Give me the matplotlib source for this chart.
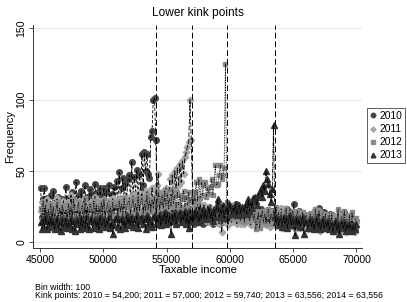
import matplotlib
matplotlib.use('Agg')
import matplotlib.pyplot as plt
import numpy as np

plt.rcParams['font.family'] = ['Liberation Sans', 'DejaVu Sans']

# bins of 100 from 45000 to 70000, plotted at bin midpoints
bin_start = 45000
bin_width = 100
kinks = [54200, 57000, 59740, 63556]
years = ['2010', '2011', '2012', '2013']

freq_2010 = [
    38, 18, 30, 38, 21, 31, 17, 27, 33, 20,
    36, 17, 28, 21, 32, 16, 26, 30, 19, 29,
    39, 19, 31, 22, 28, 35, 18, 30, 42, 21,
    33, 20, 36, 23, 30, 40, 21, 32, 24, 37,
    34, 22, 31, 41, 23, 35, 25, 38, 21, 33,
    38, 24, 36, 26, 40, 23, 34, 27, 39, 25,
    43, 26, 49, 28, 38, 45, 27, 41, 30, 44,
    47, 29, 56, 33, 46, 34, 51, 31, 48, 36,
    62, 40, 63, 50, 62, 48, 45, 74, 78, 100,
    101, 72, 26, 17, 24, 28, 18, 23, 15, 25,
    22, 15, 27, 17, 24, 14, 23, 16, 26, 18,
    24, 15, 22, 17, 25, 15, 21, 14, 23, 16,
    20, 13, 22, 15, 24, 14, 21, 16, 13, 22,
    23, 14, 20, 25, 15, 22, 13, 21, 16, 24,
    26, 15, 22, 14, 21, 24, 16, 20, 23, 15,
    25, 16, 22, 17, 27, 15, 23, 18, 16, 24,
    22, 14, 25, 17, 16, 23, 15, 24, 18, 20,
    24, 15, 21, 16, 23, 14, 22, 17, 15, 21,
    20, 13, 19, 22, 14, 21, 12, 19, 15, 20,
    22, 12, 18, 20, 14, 23, 13, 19, 21, 12,
    27, 11, 19, 14, 22, 12, 18, 20, 13, 19,
    18, 10, 17, 20, 12, 19, 11, 22, 13, 18,
    24, 10, 18, 13, 21, 11, 17, 19, 12, 20,
    19, 10, 16, 18, 11, 17, 10, 19, 12, 16,
    21, 9, 15, 17, 10, 18, 11, 16, 9, 15,
]

freq_2011 = [
    22, 28, 16, 25, 19, 30, 17, 26, 21, 15,
    27, 18, 24, 31, 19, 16, 26, 18, 29, 20,
    25, 17, 28, 19, 33, 17, 24, 27, 16, 26,
    29, 18, 25, 20, 30, 17, 27, 19, 26, 21,
    28, 17, 24, 32, 19, 26, 17, 29, 20, 25,
    30, 18, 27, 21, 29, 19, 26, 31, 17, 28,
    27, 19, 30, 22, 28, 20, 32, 18, 29, 23,
    31, 21, 28, 33, 22, 30, 20, 35, 23, 29,
    34, 22, 31, 24, 36, 26, 33, 25, 38, 27,
    30, 35, 40, 48, 24, 33, 26, 36, 29, 38,
    36, 28, 44, 30, 47, 33, 50, 38, 52, 40,
    55, 42, 57, 48, 60, 63, 67, 70, 100, 72,
    35, 24, 32, 21, 30, 19, 27, 20, 17, 26,
    22, 15, 25, 17, 14, 23, 16, 21, 14, 24,
    20, 13, 22, 7, 18, 21, 14, 19, 12, 22,
    24, 14, 20, 15, 22, 13, 19, 21, 13, 20,
    21, 13, 19, 22, 14, 20, 12, 18, 23, 14,
    19, 12, 21, 14, 20, 13, 18, 22, 12, 19,
    20, 11, 18, 21, 13, 19, 12, 22, 14, 18,
    24, 10, 17, 19, 12, 20, 11, 18, 13, 21,
    19, 9, 17, 12, 20, 10, 18, 13, 11, 19,
    17, 9, 16, 18, 10, 21, 11, 17, 12, 16,
    22, 8, 15, 17, 10, 16, 9, 18, 11, 15,
    18, 8, 14, 16, 9, 20, 10, 15, 8, 17,
    16, 7, 14, 9, 17, 8, 15, 10, 7, 14,
]

freq_2012 = [
    24, 15, 29, 18, 26, 14, 23, 17, 27, 16,
    25, 13, 22, 28, 17, 24, 15, 26, 18, 16,
    23, 14, 27, 18, 25, 16, 30, 19, 15, 24,
    28, 16, 23, 26, 17, 31, 19, 25, 16, 27,
    24, 17, 29, 19, 26, 15, 25, 20, 28, 18,
    30, 16, 24, 27, 19, 25, 17, 28, 20, 26,
    26, 18, 29, 21, 27, 17, 31, 20, 25, 28,
    29, 19, 26, 30, 21, 27, 18, 32, 22, 28,
    31, 20, 27, 22, 33, 23, 29, 21, 30, 24,
    32, 22, 28, 35, 23, 30, 33, 24, 36, 26,
    34, 23, 31, 25, 37, 27, 33, 24, 35, 26,
    33, 24, 30, 36, 25, 32, 26, 35, 28, 30,
    33, 27, 35, 42, 29, 44, 31, 42, 33, 40,
    42, 32, 38, 34, 39, 44, 33, 41, 54, 40,
    41, 47, 54, 44, 47, 52, 125, 28, 19, 25,
    24, 17, 26, 19, 16, 25, 18, 23, 15, 24,
    22, 14, 24, 17, 23, 15, 21, 25, 16, 20,
    9, 15, 21, 10, 16, 22, 14, 20, 13, 21,
    23, 13, 20, 15, 22, 14, 25, 16, 21, 15,
    21, 12, 19, 14, 24, 13, 20, 15, 12, 22,
    20, 11, 18, 22, 13, 19, 12, 21, 14, 18,
    19, 10, 17, 20, 12, 18, 11, 23, 13, 17,
    22, 10, 16, 18, 11, 20, 12, 17, 19, 13,
    20, 9, 15, 17, 11, 23, 10, 16, 18, 12,
    22, 9, 16, 11, 19, 10, 21, 12, 9, 17,
]

freq_2013 = [
    14, 9, 16, 10, 18, 9, 15, 11, 17, 12,
    15, 9, 13, 17, 10, 14, 8, 16, 11, 13,
    16, 10, 14, 11, 17, 9, 15, 8, 13, 16,
    14, 9, 17, 11, 15, 10, 18, 12, 9, 15,
    17, 10, 14, 16, 11, 15, 9, 18, 12, 14,
    16, 11, 15, 12, 18, 10, 14, 6, 12, 16,
    18, 11, 16, 9, 17, 12, 15, 10, 19, 13,
    17, 12, 18, 11, 16, 13, 19, 10, 15, 17,
    18, 13, 16, 9, 19, 12, 17, 14, 11, 18,
    19, 13, 17, 14, 20, 12, 18, 15, 21, 13,
    20, 14, 18, 6, 19, 15, 21, 13, 17, 19,
    21, 14, 19, 16, 22, 13, 20, 10, 18, 15,
    20, 15, 22, 17, 21, 14, 19, 16, 23, 17,
    22, 16, 20, 24, 17, 21, 15, 23, 18, 25,
    30, 18, 23, 20, 26, 17, 22, 24, 19, 27,
    25, 20, 24, 21, 27, 19, 23, 26, 20, 25,
    24, 21, 27, 20, 30, 22, 28, 24, 31, 32,
    29, 26, 33, 35, 37, 32, 40, 36, 50, 44,
    41, 34, 28, 37, 82, 18, 14, 17, 12, 16,
    16, 11, 18, 13, 17, 10, 15, 19, 12, 16,
    15, 5, 17, 12, 16, 11, 14, 18, 6, 15,
    14, 10, 14, 16, 11, 15, 9, 13, 17, 11,
    14, 9, 13, 16, 10, 14, 11, 15, 9, 13,
    13, 8, 12, 15, 9, 13, 6, 12, 14, 10,
    14, 8, 12, 9, 13, 10, 8, 12, 9, 13,
]

series = [freq_2010, freq_2011, freq_2012, freq_2013]
markers = ['o', 'D', 's', '^']
msizes = [4.0, 3.3, 3.4, 4.2]
colors = ['#474747', '#a6a6a6', '#8a8a8a', '#333333']
lstyles = [(0, (4, 2)), (0, (6, 2)), (0, (1, 1)), (0, (5, 1, 1, 1))]

fig = plt.figure(figsize=(4.07, 3.02), dpi=100)
ax = fig.add_axes([0.0818, 0.179, 0.807, 0.738])

for lv in [0, 50, 100, 150]:
    ax.axhline(lv, color='#eaeaea', lw=0.8, zorder=0)

handles = []
for i, (vals, yr, m, ms, c, ls) in enumerate(zip(series, years, markers, msizes, colors, lstyles)):
    x = bin_start + bin_width / 2 + bin_width * np.arange(len(vals))
    h, = ax.plot(x, vals, ls='none', marker=m, ms=ms, mfc=c, mec=c, zorder=2 + 2 * i, label=yr)
    ax.plot(x, vals, color='black', lw=0.6, ls=ls, zorder=3 + 2 * i)
    handles.append(h)

for k in kinks:
    ax.axvline(k, color='black', lw=0.7, ls=(0, (6, 3)), zorder=20)

ax.set_xlim(44470, 70420)
ax.set_ylim(-4, 152.3)
ax.set_xticks([45000, 50000, 55000, 60000, 65000, 70000])
ax.set_yticks([0, 50, 100, 150])
ax.tick_params(axis='both', labelsize=7.6, length=3, width=0.6, color='#333333', pad=2)
for lab in ax.get_yticklabels():
    lab.set_rotation(90)
    lab.set_va('center')
for s in ['top', 'right']:
    ax.spines[s].set_visible(False)
for s in ['left', 'bottom']:
    ax.spines[s].set_linewidth(0.7)
    ax.spines[s].set_color('#333333')

ax.set_xlabel('Taxable income', fontsize=8, labelpad=0)
ax.set_ylabel('Frequency', fontsize=8, labelpad=1)
fig.text(0.487, 0.957, 'Lower kink points', ha='center', va='center', fontsize=8.6)

leg = fig.legend(handles=handles, loc='upper left', bbox_to_anchor=(367 / 407, 1 - 108 / 302),
                 fontsize=7.4, frameon=True, fancybox=False, handlelength=0.6,
                 handletextpad=0.3, borderpad=0.3, labelspacing=0.3, borderaxespad=0,
                 markerscale=0.8)
leg.get_frame().set_edgecolor('#333333')
leg.get_frame().set_linewidth(0.7)

fig.text(35 / 407, 1 - 287 / 302, 'Bin width: 100', fontsize=6.3, va='center')
fig.text(35 / 407, 1 - 296 / 302,
         'Kink points: 2010 = 54,200; 2011 = 57,000; 2012 = 59,740; 2013 = 63,556; 2014 = 63,556',
         fontsize=6.3, va='center')

fig.savefig('out.png', dpi=100)
